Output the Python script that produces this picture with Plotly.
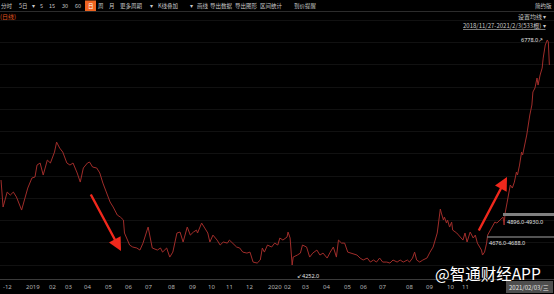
import plotly.graph_objects as go

# trading-day index (0 = 2018/11/27) and daily price
days = [0, 2, 6, 9, 12, 15, 20, 23, 26, 30, 33, 35, 38, 41, 45, 48, 50, 52, 54, 57,
        60, 64, 67, 70, 74, 77, 80, 84, 86, 89, 93, 96, 99, 103, 106, 109, 113, 116, 119, 120,
        122, 125, 128, 132, 135, 138, 142, 143, 147, 152, 155, 157, 161, 164, 167, 171, 174, 177, 181, 184,
        187, 190, 191, 195, 198, 201, 203, 206, 210, 213, 216, 220, 222, 225, 229, 232, 235, 239, 242, 245,
        249, 252, 254, 256, 259, 263, 266, 269, 271, 274, 278, 279, 281, 283, 284, 288, 291, 293, 297, 300,
        303, 307, 310, 313, 317, 320, 323, 326, 328, 331, 334, 337, 341, 346, 349, 352, 356, 359, 362, 365,
        368, 371, 375, 378, 381, 385, 388, 391, 395, 397, 400, 402, 404, 407, 410, 414, 417, 420, 424, 425,
        427, 428, 430, 431, 433, 434, 436, 438, 439, 443, 446, 449, 451, 453, 456, 459, 461, 463, 467, 468,
        470, 472, 473, 477, 480, 482, 485, 488, 489, 490, 492, 495, 497, 499, 501, 502, 504, 506, 507, 511,
        514, 516, 517, 519, 521, 522, 524, 526, 527, 529, 531, 532, 533]
prices = [5206, 4903, 5071, 5037, 5071, 5015, 4869, 5004, 5116, 5228, 5240, 5374, 5397, 5262, 5430, 5397, 5464, 5520, 5632, 5565,
          5520, 5397, 5374, 5397, 5285, 5183, 5341, 5397, 5408, 5352, 5341, 5285, 5172, 5060, 4959, 4903, 4813, 4790, 4757, 4611,
          4555, 4476, 4454, 4443, 4420, 4498, 4644, 4678, 4443, 4420, 4443, 4397, 4443, 4341, 4397, 4611, 4622, 4510, 4678, 4588,
          4622, 4644, 4611, 4723, 4667, 4611, 4510, 4588, 4532, 4476, 4510, 4498, 4532, 4498, 4454, 4443, 4397, 4386, 4397, 4285,
          4274, 4308, 4443, 4397, 4476, 4454, 4498, 4476, 4555, 4532, 4566, 4622, 4555, 4252, 4341, 4364, 4386, 4476, 4454, 4341,
          4386, 4420, 4364, 4386, 4330, 4397, 4454, 4341, 4532, 4498, 4498, 4397, 4386, 4364, 4330, 4308, 4330, 4285, 4308, 4285,
          4330, 4285, 4285, 4274, 4308, 4285, 4308, 4285, 4308, 4285, 4330, 4397, 4308, 4285, 4308, 4330, 4397, 4454, 4611, 4723,
          4880, 4835, 4757, 4790, 4723, 4757, 4678, 4734, 4644, 4611, 4566, 4532, 4611, 4510, 4622, 4555, 4588, 4498, 4420, 4364,
          4397, 4498, 4588, 4678, 4734, 4723, 4757, 4790, 4701, 4835, 4959, 5150, 5116, 5183, 5296, 5262, 5374, 5520, 5487, 5711,
          5936, 6048, 6194, 6239, 6351, 6272, 6385, 6463, 6575, 6722, 6778, 6755, 6497]

# month labels (left edge, in trading-day units as they sit on the axis)
month_days = [0, 22, 45, 60, 79, 99, 119, 138, 160, 181, 199, 217, 236,
              258, 273, 291, 311, 331, 347, 365, 392, 411, 432, 446]
month_labels = ["-12", "2019", "02", "03", "04", "05", "06", "07", "08", "09", "10", "11", "12",
                "2020", "02", "03", "04", "05", "06", "07", "08", "09", "10", "11"]

toolbar_items = ["分时", "5日", "▾", "5", "15", "30", "60", "日", "周", "月", "更多周期", "▾",
                 "K线叠加", "▾", "画线", "导出数据", "导出图形", "区间统计", "到价提醒"]
toolbar_x = [6.5, 23, 33, 41, 52, 65, 78, 90.5, 101, 112, 131, 151,
             168, 191, 203, 221, 246, 271, 305]

W, H = 554, 294
T, B = 12, 15
PH = H - T - B
CJK = "Noto Sans CJK SC"


def px(x):
    return x / W


def py(y):
    return (H - B - y) / PH


fig = go.Figure()
fig.add_trace(go.Scatter(x=days, y=prices, mode="lines",
                         line=dict(color="#a02d2a", width=1), hoverinfo="skip"))

ann = []


def txt(s, x, y, size=6, color="#c8c8c8", xanchor="center", font=CJK, **kw):
    ann.append(dict(text=s, x=px(x), y=py(y), xref="paper", yref="paper",
                    xanchor=xanchor, yanchor="middle", showarrow=False,
                    font=dict(size=size, color=color, family=font, **kw)))


for i, (s, x) in enumerate(zip(toolbar_items, toolbar_x)):
    txt(s, x, 5.5, size=5.5, color="#ffffff" if i == 7 else "#c8c8c8")
txt("简约版", 543, 5.5, size=5.5)
txt("(日线)", -2, 16, size=6, color="#e2551f", xanchor="left")
txt("设置均线 ▾", 548, 16, size=6, xanchor="right")
txt("2018/11/27-2021/2/3(533根) ▾", 548, 25, size=6, xanchor="right", lineposition="under")

for d, lab in zip(month_days, month_labels):
    ann.append(dict(text=lab, x=d, y=py(286.5), xref="x", yref="paper", xanchor="left",
                    yanchor="middle", showarrow=False,
                    font=dict(size=6, color="#b4b4b4", family="Noto Sans")))
txt("2021/02/03/三", 529, 287, size=6, color="#e6e6e6")

# extremes
ann.append(dict(text="6778.0↗", x=days[prices.index(max(prices))], y=max(prices), xref="x", yref="y",
                xanchor="right", yanchor="middle", xshift=-2, showarrow=False,
                font=dict(size=5.5, color="#e6e6e6", family="Noto Sans")))
ann.append(dict(text="↙4252.0", x=days[prices.index(min(prices))], y=min(prices), xref="x", yref="y",
                xanchor="left", yanchor="middle", xshift=3, yshift=-11, showarrow=False,
                font=dict(size=5.5, color="#e6e6e6", family="Noto Sans")))

txt("4896.0-4930.0", 505, 221.5, size=5.5, color="#e6e6e6", xanchor="left", font="Noto Sans")
txt("4676.0-4688.0", 487, 242.5, size=5.5, color="#e6e6e6", xanchor="left", font="Noto Sans")

# red arrows
for hx, hy, tx, ty in [(121, 251, 90, 193), (507, 177, 478, 232)]:
    ann.append(dict(text="", x=px(hx), y=py(hy), xref="paper", yref="paper",
                    ax=tx - hx, ay=ty - hy, showarrow=True, arrowhead=2, arrowsize=1.1,
                    arrowwidth=2.4, arrowcolor="#f0281c"))

# watermark
txt("@智通财经APP", 488, 272.5, size=15.5, color="#ffffff", font=CJK)

shapes = [
    dict(type="rect", xref="paper", yref="paper", x0=px(85), x1=px(96), y0=py(11), y1=py(0.5),
         fillcolor="#ef6420", line=dict(width=0), layer="below"),
    dict(type="line", xref="paper", yref="paper", x0=0, x1=1, y0=py(11.5), y1=py(11.5),
         line=dict(color="#2c2c2c", width=1)),
    dict(type="line", xref="paper", yref="paper", x0=0, x1=1, y0=py(279.5), y1=py(279.5),
         line=dict(color="#3a3a3a", width=1)),
    dict(type="rect", xref="paper", yref="paper", x0=px(506), x1=px(553), y0=py(293), y1=py(281),
         fillcolor="#4e4e4e", line=dict(width=0), layer="below"),
    dict(type="rect", xref="paper", yref="paper", x0=px(503), x1=px(554), y0=py(216), y1=py(213),
         fillcolor="#808080", line=dict(width=0)),
    dict(type="line", xref="paper", yref="paper", x0=px(487), x1=px(554), y0=py(237), y1=py(237),
         line=dict(color="#6e6e6e", width=1.5)),
]

fig.update_layout(
    width=W, height=H, margin=dict(l=0, r=0, t=T, b=B),
    paper_bgcolor="#000000", plot_bgcolor="#000000",
    showlegend=False, annotations=ann, shapes=shapes,
    xaxis=dict(range=[-1, 537.5], showticklabels=False, showgrid=False, zeroline=False,
               ticks="", fixedrange=True),
    yaxis=dict(range=[4095, 7092], showticklabels=False, showgrid=True, gridcolor="#111111",
               gridwidth=1, dtick=250, tick0=4000, zeroline=False, ticks="", fixedrange=True),
)

fig.write_html("out.html", config={"displayModeBar": False})
